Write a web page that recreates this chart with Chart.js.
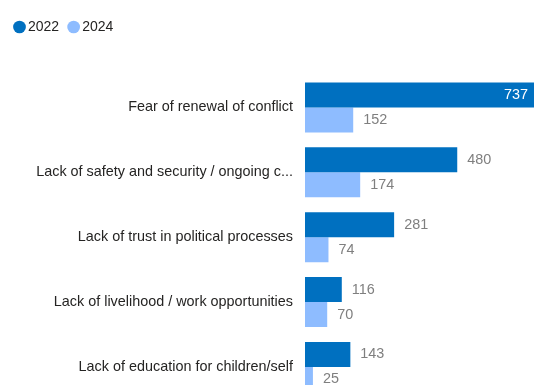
<!DOCTYPE html>
<html>
<head>
<meta charset="utf-8">
<script src="https://cdn.jsdelivr.net/npm/chart.js@4/dist/chart.umd.min.js"></script>
<style>
  html, body { margin: 0; padding: 0; background: #fff; overflow: hidden; }
  #wrap { position: relative; width: 534px; height: 420px; }
</style>
</head>
<body>
<div id="wrap"><canvas id="chart"></canvas></div>
<script>
const categories = [
  "Fear of renewal of conflict",
  "Lack of safety and security / ongoing conflict",
  "Lack of trust in political processes",
  "Lack of livelihood / work opportunities",
  "Lack of education for children/self"
];
const values2022 = [737, 480, 281, 116, 143];
const values2024 = [152, 174, 74, 70, 25];

const DARK = "#0070c0";
const LIGHT = "#8ebcff";
const FONT = "'Liberation Sans', Arial, sans-serif";

// numbers next to each bar; drawn inside in white when there is no room outside
const valueLabels = {
  id: "valueLabels",
  afterDatasetsDraw(chart) {
    const ctx = chart.ctx;
    const area = chart.chartArea;
    ctx.save();
    ctx.font = "14.4px " + FONT;
    ctx.textBaseline = "middle";
    chart.data.datasets.forEach((ds, i) => {
      chart.getDatasetMeta(i).data.forEach((bar, j) => {
        const text = String(ds.data[j]);
        const w = ctx.measureText(text).width;
        const end = Math.min(bar.x, area.right);
        if (end + 10 + w > area.right) {
          ctx.fillStyle = "#ffffff";
          ctx.textAlign = "right";
          ctx.fillText(text, end - 6, bar.y);
        } else {
          ctx.fillStyle = "#7f7f7f";
          ctx.textAlign = "left";
          ctx.fillText(text, bar.x + 10, bar.y);
        }
      });
    });
    ctx.restore();
  }
};

// extra room under the legend
const legendGap = {
  id: "legendGap",
  beforeInit(chart) {
    const fit = chart.legend.fit;
    chart.legend.fit = function () {
      fit.bind(chart.legend)();
      this.height += 31;
    };
  }
};

new Chart(document.getElementById("chart"), {
  type: "bar",
  data: {
    labels: categories,
    datasets: [
      { label: "2022", data: values2022, backgroundColor: DARK },
      { label: "2024", data: values2024, backgroundColor: LIGHT }
    ]
  },
  options: {
    indexAxis: "y",
    responsive: true,
    maintainAspectRatio: false,
    animation: false,
    categoryPercentage: 0.77,
    barPercentage: 1,
    layout: { padding: { left: 5, top: 7, right: 0, bottom: 10 } },
    plugins: {
      tooltip: { enabled: false },
      legend: {
        position: "top",
        align: "start",
        labels: {
          usePointStyle: true,
          pointStyle: "circle",
          boxWidth: 3,
          boxHeight: 9,
          padding: 13,
          color: "#252423",
          font: { family: FONT, size: 14 }
        }
      }
    },
    scales: {
      x: { display: false, min: 0, max: 722 },
      y: {
        grid: { display: false, drawTicks: false },
        border: { display: false },
        afterFit(scale) { scale.width = 300; },
        ticks: {
          padding: 12,
          color: "#252423",
          font: { family: FONT, size: 14.4 },
          callback(value) {
            const s = this.getLabelForValue(value);
            return s.length > 40 ? s.slice(0, 39) + "..." : s;
          }
        }
      }
    }
  },
  plugins: [valueLabels, legendGap]
});
</script>
</body>
</html>
